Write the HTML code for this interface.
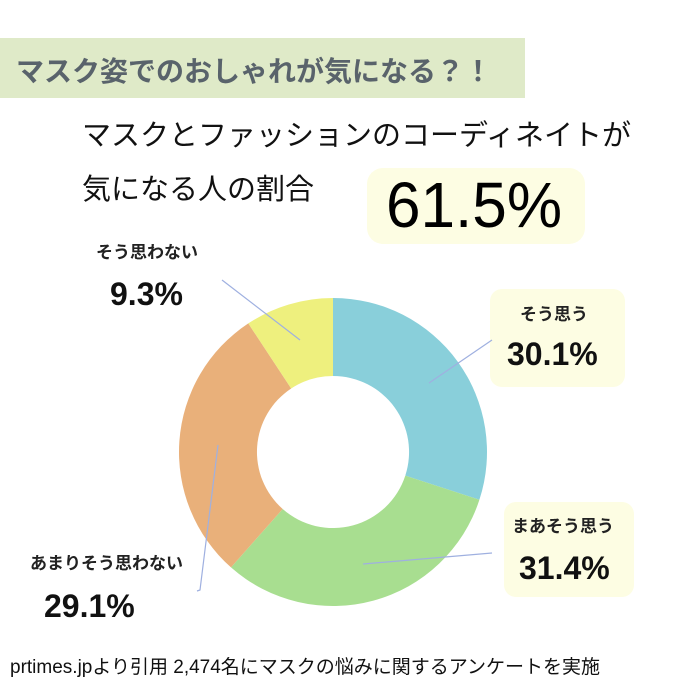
<!DOCTYPE html>
<html><head><meta charset="utf-8"><style>
body{margin:0;width:690px;height:690px;background:#fff;position:relative;overflow:hidden;font-family:"Liberation Sans","Noto Sans CJK JP",sans-serif}
.a{position:absolute;white-space:nowrap}
.box{position:absolute;background:#fdfde3;border-radius:12px}
</style></head><body>
<div class="a" style="left:0;top:38px;width:525px;height:60px;background:#dfeac8"></div>
<div class="a" style="left:16px;top:50px;font-size:28px;font-weight:bold;color:#59636b">マスク姿でのおしゃれが気になる？！</div>
<div class="a" style="left:82px;top:112px;font-size:29px;color:#111">マスクとファッションのコーディネイトが</div>
<div class="a" style="left:82px;top:166px;font-size:29px;color:#111">気になる人の割合</div>
<div class="box" style="left:367px;top:168px;width:218px;height:76px;border-radius:16px"></div>
<div class="a" style="left:386px;top:168px;font-size:64px;color:#000;transform:scaleX(0.97);transform-origin:left">61.5%</div>
<div class="box" style="left:490px;top:289px;width:135px;height:98px"></div>
<div class="box" style="left:504px;top:502px;width:130px;height:95px"></div>
<svg class="a" style="left:0;top:0" width="690" height="690">
<g transform="translate(333,452)">
<path d="M0,-154 A154,154 0 0 1 146.4,47.8 L72.3,23.6 A76,76 0 0 0 0,-76Z" fill="#89cfda"/>
<path d="M146.4,47.8 A154,154 0 0 1 -102,115.4 L-50.3,57 A76,76 0 0 0 72.3,23.6Z" fill="#a8de90"/>
<path d="M-102,115.4 A154,154 0 0 1 -84.7,-128.6 L-41.8,-63.5 A76,76 0 0 0 -50.3,57Z" fill="#e9b07a"/>
<path d="M-84.7,-128.6 A154,154 0 0 1 0,-154 L0,-76 A76,76 0 0 0 -41.8,-63.5Z" fill="#eef07e"/>
</g>
<g stroke="#9fb0e0" stroke-width="1.2" fill="none">
<path d="M222,280 L300,340"/><path d="M492,340 L429,383"/><path d="M363,564 L492,553"/><path d="M218,445 L200,590 L197,591"/>
</g>
</svg>
<div class="a" style="left:96px;top:238px;font-size:17px;font-weight:bold;color:#222">そう思わない</div>
<div class="a" style="left:110px;top:276px;font-size:32px;font-weight:bold;color:#111">9.3%</div>
<div class="a" style="left:520px;top:300px;font-size:17px;font-weight:bold;color:#222">そう思う</div>
<div class="a" style="left:507px;top:336px;font-size:32px;font-weight:bold;color:#111">30.1%</div>
<div class="a" style="left:512px;top:512px;font-size:17px;font-weight:bold;color:#222">まあそう思う</div>
<div class="a" style="left:519px;top:550px;font-size:32px;font-weight:bold;color:#111">31.4%</div>
<div class="a" style="left:30px;top:549px;font-size:17px;font-weight:bold;color:#222">あまりそう思わない</div>
<div class="a" style="left:44px;top:588px;font-size:32px;font-weight:bold;color:#111">29.1%</div>
<div class="a" style="left:10px;top:652px;font-size:19px;color:#111">prtimes.jpより引用 2,474名にマスクの悩みに関するアンケートを実施</div>
</body></html>
